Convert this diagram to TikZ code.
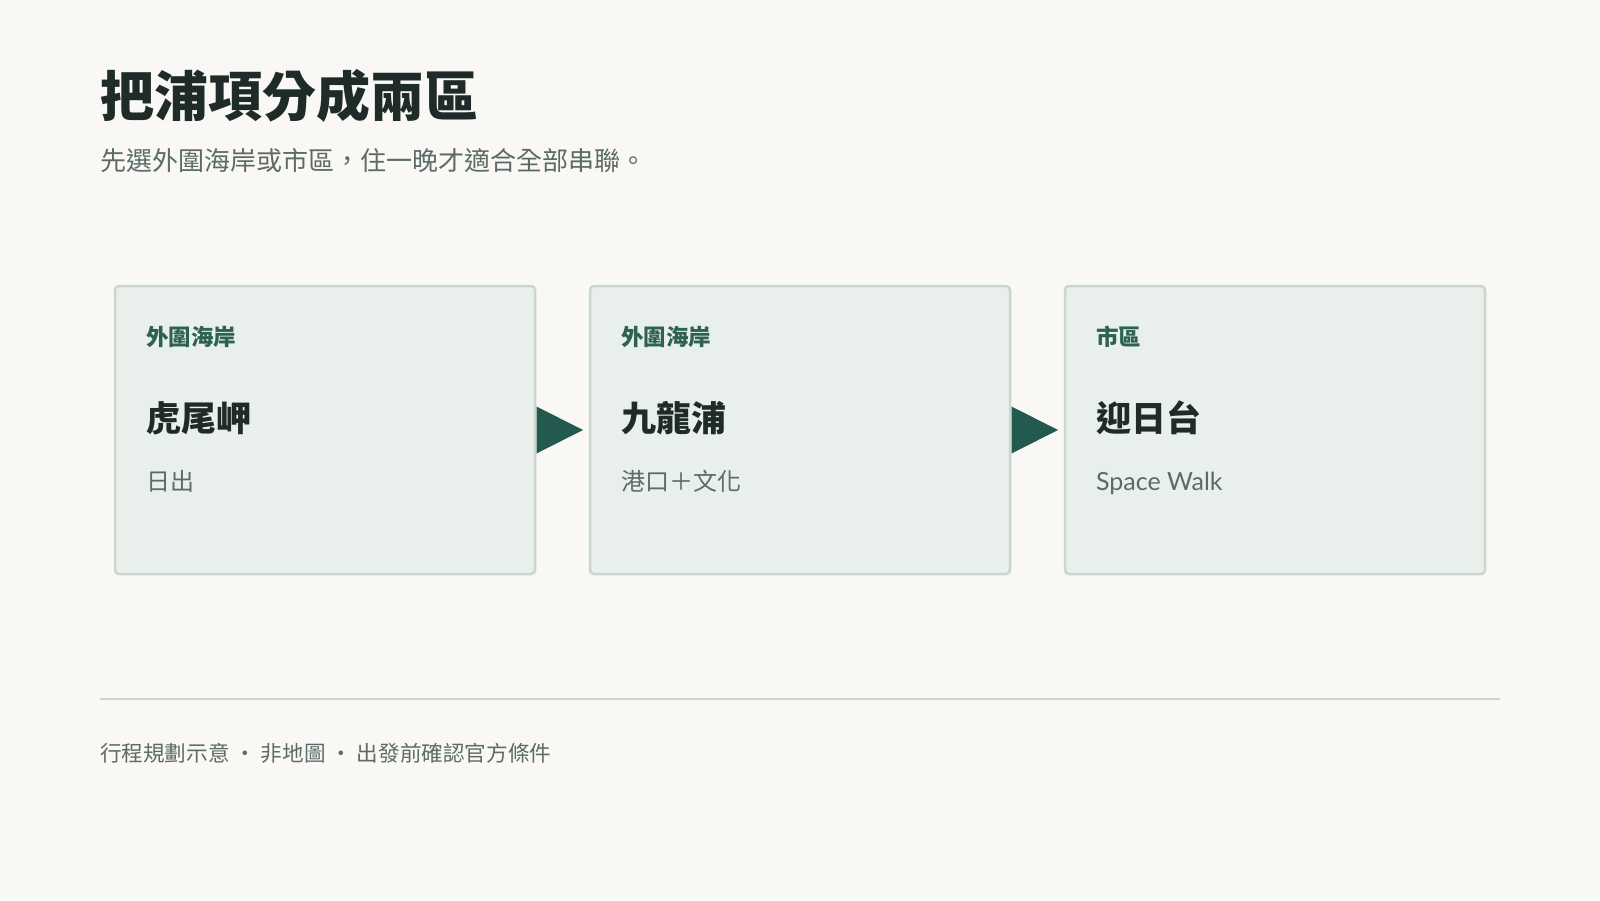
\documentclass[tikz,border=0pt]{standalone}
\usepackage{fontspec}
\setmainfont{Noto Sans CJK TC}
\newfontfamily\cjk{Noto Sans CJK TC}
\newfontfamily\latinsans{Lato}
\definecolor{bgc}{HTML}{F9F8F5}
\definecolor{cardfill}{HTML}{E9EFEB}
\definecolor{cardline}{HTML}{CAD6CF}
\definecolor{accent}{HTML}{235A4F}
\definecolor{titlec}{HTML}{1F2B28}
\definecolor{catc}{HTML}{2C6153}
\definecolor{mutec}{HTML}{5C6B67}
\definecolor{rulec}{HTML}{C9D6CF}
\tikzset{
  card/.style={draw=cardline, fill=cardfill, line width=2.5pt, rounded corners=4pt, minimum width=420pt, minimum height=288pt, inner sep=0pt, outer sep=0pt, anchor=north west},
  txt/.style={anchor=west, inner sep=0pt, outer sep=0pt},
  cat/.style={txt, text=catc, font=\cjk\bfseries\fontsize{22.5}{26}\selectfont},
  place/.style={txt, text=titlec, font=\cjk\bfseries\fontsize{35}{40}\selectfont},
  desc/.style={txt, text=mutec, font=\cjk\fontsize{24}{28}\selectfont},
  tri/.style={fill=accent, draw=none},
}
\begin{document}
\begin{tikzpicture}[x=1pt,y=-1pt]
\fill[bgc] (0,0) rectangle (1600,900);
\useasboundingbox (0,0) rectangle (1600,900);

\node[txt, text=titlec, font=\cjk\bfseries\fontsize{54}{60}\selectfont] (title) at (100,96) {把浦項分成兩區};
\node[txt, text=mutec, font=\cjk\fontsize{26}{30}\selectfont] (subtitle) at (100,161) {先選外圍海岸或市區，住一晚才適合全部串聯。};

\node[card] (c1) at (115,286) {};
\node[card] (c2) at (590,286) {};
\node[card] (c3) at (1065,286) {};

\node[cat] (c1cat) at ([xshift=31pt,yshift=-51pt]c1.north west) {外圍海岸};
\node[place] (c1pl) at ([xshift=31pt,yshift=-132pt]c1.north west) {虎尾岬};
\node[desc] (c1d) at ([xshift=31pt,yshift=-195pt]c1.north west) {日出};

\node[cat] (c2cat) at ([xshift=31pt,yshift=-51pt]c2.north west) {外圍海岸};
\node[place] (c2pl) at ([xshift=31pt,yshift=-132pt]c2.north west) {九龍浦};
\node[desc] (c2d) at ([xshift=31pt,yshift=-195pt]c2.north west) {港口＋文化};

\node[cat] (c3cat) at ([xshift=31pt,yshift=-51pt]c3.north west) {市區};
\node[place] (c3pl) at ([xshift=31pt,yshift=-132pt]c3.north west) {迎日台};
\node[desc, anchor=base west, font=\latinsans\fontsize{25}{28}\selectfont] (c3d) at ([xshift=31pt,yshift=-204pt]c3.north west) {Space Walk};

\coordinate (a1) at ([xshift=1.5pt]c1.east);
\coordinate (a2) at ([xshift=1.5pt]c2.east);
\fill[tri] ([yshift=-23.5pt]a1) -- ([xshift=46.5pt]a1) -- ([yshift=23.5pt]a1) -- cycle;
\fill[tri] ([yshift=-23.5pt]a2) -- ([xshift=46.5pt]a2) -- ([yshift=23.5pt]a2) -- cycle;

\coordinate (r1) at (100,699);
\coordinate (r2) at (1500,699);
\draw[rulec, line width=2pt] (r1) -- (r2);

\node[txt, text=mutec, font=\cjk\fontsize{21.6}{26}\selectfont] (footer) at (100,753) {行程規劃示意 · 非地圖 · 出發前確認官方條件};
\end{tikzpicture}
\end{document}
